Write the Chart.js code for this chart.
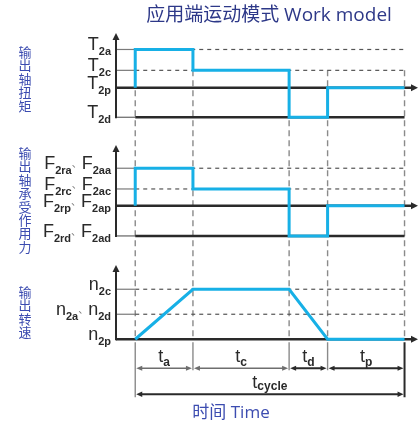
<!DOCTYPE html>
<html lang="zh">
<head>
<meta charset="UTF-8" />
<title>应用端运动模式 Work model</title>
<script src="https://cdn.jsdelivr.net/npm/chart.js"></script>
<style>
  html, body { margin: 0; padding: 0; background: #fff; }
  canvas { display: block; }
</style>
</head>
<body>
<canvas id="workChart" width="420" height="425"></canvas>
<script>
  // time phases (relative durations)
  const phaseNames = ['a', 'c', 'd', 'p'];
  const phaseDurations = [3, 5, 2, 4];

  // output shaft torque
  const torqueLevels = [2.2, 1, 0, -1.7];
  const torqueLabels = [['2a'], ['2c'], ['2p'], ['2d']];
  const torqueStart = 0;
  const torqueByPhase = [2.2, 1, -1.7, 0];

  // force on output shaft bearing
  const forceLevels = [2.24, 1, 0, -1.81];
  const forceLabels = [['2ra', '2aa'], ['2rc', '2ac'], ['2rp', '2ap'], ['2rd', '2ad']];
  const forceStart = 0;
  const forceByPhase = [2.24, 1, -1.81, 0];

  // output speed, at phase boundaries
  const speedLevels = [2, 1, 0];
  const speedLabels = [['2c'], ['2a', '2d'], ['2p']];
  const speedAtEdges = [0, 2, 2, 0, 0];

  const edges = [0];
  phaseDurations.forEach(d => edges.push(edges[edges.length - 1] + d));

  function stepPoints(start, byPhase) {
    const pts = [{ x: edges[0], y: start }];
    byPhase.forEach((v, i) => {
      pts.push({ x: edges[i], y: v });
      pts.push({ x: edges[i + 1], y: v });
    });
    return pts;
  }

  const BLUE = '#17b0e6';
  const DARK = '#2a2a2a';
  const GREY = '#7a7a7a';

  const panels = [
    { axis: 'yT', letter: 'T', levels: torqueLevels, labels: torqueLabels,
      title: '输出轴扭矩', titleY: 52 },
    { axis: 'yF', letter: 'F', levels: forceLevels, labels: forceLabels,
      title: '输出轴承受作用力', titleY: 153 },
    { axis: 'yN', letter: 'n', levels: speedLevels, labels: speedLabels,
      title: '输出转速', titleY: 292 }
  ];

  function line(ctx, x1, y1, x2, y2, color, width, dash) {
    ctx.save();
    ctx.strokeStyle = color;
    ctx.lineWidth = width;
    ctx.setLineDash(dash || []);
    ctx.beginPath();
    ctx.moveTo(x1, y1);
    ctx.lineTo(x2, y2);
    ctx.stroke();
    ctx.restore();
  }

  function head(ctx, x, y, dx, dy, len, half, color) {
    // tip at (x, y), pointing along (dx, dy)
    ctx.save();
    ctx.fillStyle = color;
    ctx.beginPath();
    ctx.moveTo(x, y);
    ctx.lineTo(x - dx * len - dy * half, y - dy * len - dx * half);
    ctx.lineTo(x - dx * len + dy * half, y - dy * len + dx * half);
    ctx.closePath();
    ctx.fill();
    ctx.restore();
  }

  function richText(ctx, pieces, x, y, align) {
    let total = 0;
    pieces.forEach(p => { ctx.font = p.font; p.w = ctx.measureText(p.text).width; total += p.w; });
    let cx = align === 'right' ? x - total : align === 'center' ? x - total / 2 : x;
    pieces.forEach(p => {
      ctx.font = p.font;
      ctx.fillStyle = p.color || DARK;
      ctx.textAlign = 'left';
      ctx.textBaseline = 'alphabetic';
      ctx.fillText(p.text, cx, y + (p.dy || 0));
      cx += p.w;
    });
  }

  const MAIN = '18px "Liberation Sans", Arial, sans-serif';
  const SUB = 'bold 11px "Liberation Sans", Arial, sans-serif';
  const SUB_T = 'bold 12px "Liberation Sans", Arial, sans-serif';

  const guides = {
    id: 'guides',
    beforeDatasetsDraw(chart) {
      const ctx = chart.ctx;
      const xs = chart.scales.x;
      const ex = edges.map(t => xs.getPixelForValue(t));
      const axisX = xs.left;
      const endX = xs.right;

      // vertical phase lines
      const yStart = chart.scales.yT.getPixelForValue(torqueLevels[1]);
      const yBase = chart.scales.yN.getPixelForValue(0);
      ex.forEach(x => line(ctx, x, yStart, x, yBase, '#8a8a8a', 1.4, [6, 4]));

      panels.forEach(p => {
        const s = chart.scales[p.axis];
        const yTop = s.top + 3;
        const yBottom = s.getPixelForValue(Math.min(...p.levels));
        p.levels.forEach(v => {
          const y = s.getPixelForValue(v);
          if (v === 0) {
            line(ctx, axisX, y, endX - 5, y, DARK, 2.5);
            head(ctx, endX, y, 1, 0, 7, 3.5, DARK);
          } else if (v > 0) {
            line(ctx, axisX, y, ex[0], y, GREY, 1.2);
            line(ctx, ex[0], y, ex[ex.length - 1], y, '#555', 1.2, [4, 4]);
          } else {
            line(ctx, axisX, y, ex[0], y, GREY, 1.4);
            line(ctx, ex[0], y, ex[ex.length - 1], y, DARK, 2.5);
          }
        });
        line(ctx, axisX, yTop + 5, axisX, yBottom + 1, DARK, 2);
        head(ctx, axisX, yTop, 0, -1, 7, 3.5, DARK);
      });
    },
    afterDraw(chart) {
      const ctx = chart.ctx;
      const xs = chart.scales.x;
      const ex = edges.map(t => xs.getPixelForValue(t));
      const labelRight = xs.left - 5;

      // title
      ctx.save();
      ctx.fillStyle = '#2d3888';
      ctx.font = '19px "Open Sans", "Noto Sans CJK SC", sans-serif';
      ctx.textAlign = 'center';
      ctx.textBaseline = 'alphabetic';
      ctx.fillText('应用端运动模式 Work model', 269, 21);
      ctx.restore();

      panels.forEach(p => {
        const s = chart.scales[p.axis];
        // vertical quantity name
        ctx.save();
        ctx.fillStyle = '#3c4cb0';
        ctx.font = '13px "Noto Sans CJK SC", sans-serif';
        ctx.textAlign = 'center';
        ctx.textBaseline = 'middle';
        Array.from(p.title).forEach((ch, i) => ctx.fillText(ch, 25, p.titleY + i * 13.4));
        ctx.restore();

        // tick labels with subscripts
        p.levels.forEach((v, i) => {
          const y = s.getPixelForValue(v);
          const pieces = [];
          p.labels[i].forEach((sub, k) => {
            if (k > 0) pieces.push({ text: '、', font: '10px "Noto Sans CJK SC", sans-serif', color: '#777', dy: -1 });
            pieces.push({ text: p.letter, font: MAIN, dy: 1 });
            pieces.push({ text: sub, font: SUB, dy: 6 });
          });
          richText(ctx, pieces, labelRight, y, 'right');
        });
      });

      // dimension lines under the speed panel
      const yBase = chart.scales.yN.getPixelForValue(0);
      const row1 = yBase + 29;
      const row2 = yBase + 55;
      ex.forEach((x, i) => {
        const outer = i === 0 || i === ex.length - 1;
        const col = i === ex.length - 1 ? DARK : '#8a8a8a';
        line(ctx, x, yBase + 3, x, outer ? row2 + 3 : row1 + 2, col, i === ex.length - 1 ? 2 : 1.4);
      });
      phaseNames.forEach((name, i) => {
        const a = ex[i] + 1, b = ex[i + 1] - 1;
        const dark = i >= 2;
        const col = dark ? DARK : '#6e6e6e';
        line(ctx, a + 4, row1, b - 4, row1, col, dark ? 2 : 1.5);
        head(ctx, a, row1, -1, 0, 6, 2.6, col);
        head(ctx, b, row1, 1, 0, 6, 2.6, col);
        richText(ctx, [
          { text: 't', font: MAIN },
          { text: name, font: SUB_T, dy: 4 }
        ], (ex[i] + ex[i + 1]) / 2, row1 - 6, 'center');
      });
      const a = ex[0] + 1, b = ex[ex.length - 1] - 1;
      line(ctx, a + 4, row2, b - 4, row2, DARK, 2);
      head(ctx, a, row2, -1, 0, 6, 2.8, DARK);
      head(ctx, b, row2, 1, 0, 6, 2.8, DARK);
      richText(ctx, [
        { text: 't', font: MAIN },
        { text: 'cycle', font: SUB_T, dy: 2 }
      ], (ex[0] + ex[ex.length - 1]) / 2, row2 - 6, 'center');

      // time axis caption
      ctx.save();
      ctx.fillStyle = '#3c4cb0';
      ctx.font = '17px "Open Sans", "Noto Sans CJK SC", sans-serif';
      ctx.textAlign = 'center';
      ctx.textBaseline = 'alphabetic';
      ctx.fillText('时间 Time', 231, 418);
      ctx.restore();
    }
  };

  const hiddenAxis = (weight, stackWeight, min, max) => ({
    type: 'linear',
    position: 'left',
    stack: 'panels',
    stackWeight: stackWeight,
    weight: weight,
    min: min,
    max: max,
    ticks: { display: false },
    grid: { display: false, drawTicks: false },
    border: { display: false }
  });

  const lineStyle = {
    borderColor: BLUE,
    borderWidth: 3,
    pointRadius: 0,
    fill: false,
    tension: 0,
    borderJoinStyle: 'miter',
    borderCapStyle: 'butt'
  };

  new Chart(document.getElementById('workChart'), {
    type: 'line',
    data: {
      datasets: [
        { ...lineStyle, label: '输出轴扭矩', yAxisID: 'yT', data: stepPoints(torqueStart, torqueByPhase) },
        { ...lineStyle, label: '输出轴承受作用力', yAxisID: 'yF', data: stepPoints(forceStart, forceByPhase) },
        { ...lineStyle, label: '输出转速', yAxisID: 'yN',
          data: edges.map((t, i) => ({ x: t, y: speedAtEdges[i] })) }
      ]
    },
    options: {
      responsive: false,
      animation: false,
      events: [],
      layout: { padding: { left: 116, right: 2, top: 30, bottom: 80 } },
      plugins: { legend: { display: false }, tooltip: { enabled: false } },
      scales: {
        x: { type: 'linear', min: -1, max: 14.7, display: false },
        yN: hiddenAxis(1, 83, -0.23, 3.09),
        yF: hiddenAxis(2, 120, -3.37, 3.81),
        yT: hiddenAxis(3, 112, -3.12, 3.32)
      }
    },
    plugins: [guides]
  });
</script>
</body>
</html>
